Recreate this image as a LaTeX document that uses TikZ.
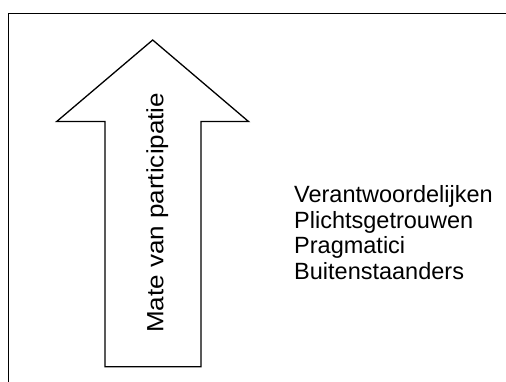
\documentclass[tikz,border=0pt]{standalone}
\usepackage{fontspec}
\usepackage{graphicx}
\setmainfont{Liberation Sans}
\begin{document}
\begin{tikzpicture}[x=1pt,y=-1pt,
  frame/.style={draw=black,line width=1.6pt},
  bigarrow/.style={draw=black,line width=1.3pt,line join=miter},
  lbl/.style={inner sep=0pt,font=\fontsize{23.5}{27}\selectfont},
]
\useasboundingbox (0,0) rectangle (506,381);
\begin{scope}
\clip (0,0) rectangle (506,381);
\draw[frame] (8.5,13.5) rectangle (530,400);
\end{scope}
\draw[bigarrow] (152.7,40) -- (248.5,121.5) -- (201,121.5) -- (201,366.7)
  -- (105,366.7) -- (105,121.5) -- (56.7,121.5) -- cycle;
\node[lbl,rotate=90,anchor=base west] (mate) at (163.3,333) {\scalebox{1.107}[1]{Mate van participatie}};
\node[lbl,anchor=base west] (t1) at (294,202.5) {Verantwoordelijken};
\node[lbl,anchor=base west] (t2) at (294,228) {Plichtsgetrouwen};
\node[lbl,anchor=base west] (t3) at (294,253.5) {Pragmatici};
\node[lbl,anchor=base west] (t4) at (294,279) {Buitenstaanders};
\end{tikzpicture}
\end{document}
